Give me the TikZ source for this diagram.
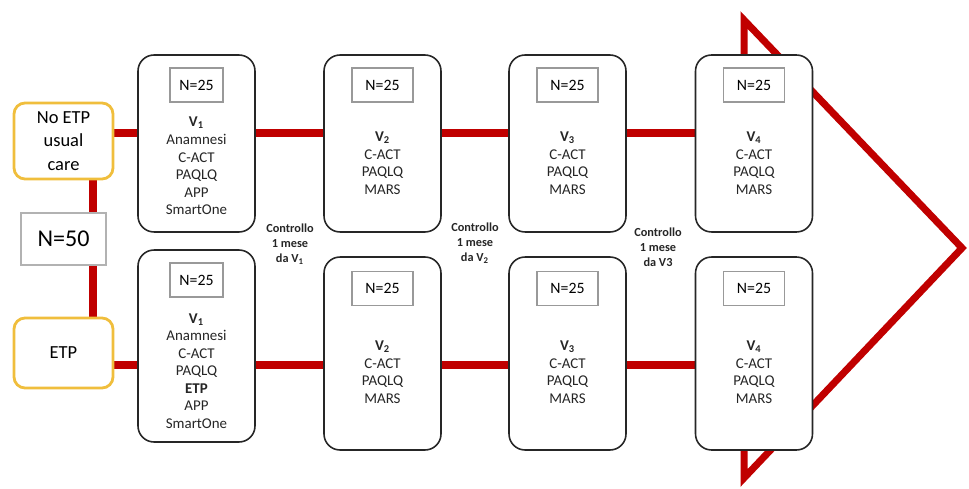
\documentclass[tikz,border=0pt]{standalone}
\usepackage{fontspec}
\setmainfont{Carlito}
\usetikzlibrary{backgrounds}
\definecolor{etpred}{RGB}{192,0,0}
\definecolor{etpgold}{RGB}{240,190,60}

\begin{document}
\begin{tikzpicture}[x=0.02cm,y=-0.02cm,
  visit/.style={draw=black!85,line width=0.9pt,rounded corners=0.32cm,fill=white,minimum width=2.34cm},
  nbox/.style={draw=black!40,line width=0.6pt,fill=white,minimum height=0.68cm,font=\fontsize{9}{11}\selectfont},
  arm/.style={draw=etpgold,line width=1.6pt,rounded corners=0.22cm,fill=white,minimum width=1.98cm,align=center,font=\fontsize{10.5}{13.2}\selectfont},
  exams/.style={align=center,text=black!85,font=\fontsize{8.5}{10}\selectfont},
  ctrl/.style={align=center,text=black!85,font=\bfseries\fontsize{7}{8.5}\selectfont},
  redline/.style={etpred,line width=4.5pt}]
  \useasboundingbox (0,0) rectangle (969,489);

  % the two arms
  \node[arm,minimum height=1.52cm] (noetp) at (63.5,141) {No ETP\\usual\\care};
  \node[arm,minimum height=1.4cm] (etp) at (63.5,353) {ETP};
  \node[draw=black!30,fill=white,line width=0.6pt,minimum width=1.7cm,minimum height=1.04cm,font=\fontsize{13.7}{16}\selectfont] (n50) at (63.5,239) {N=50};

  % first visit
  \node[visit,minimum height=3.54cm] (top1) at (196.5,143.5) {};
  \node[nbox,minimum width=1.06cm] (ntop1) at (196.5,85) {N=25};
  \node[exams] (etop1) at (196.5,166) {\textbf{V\textsubscript{1}}\\Anamnesi\\C-ACT\\PAQLQ\\APP\\SmartOne};
  \node[visit,minimum height=3.84cm] (bot1) at (196.5,346) {};
  \node[nbox,minimum width=1.06cm] (nbot1) at (196.5,280) {N=25};
  \node[exams] (ebot1) at (196.5,371) {\textbf{V\textsubscript{1}}\\Anamnesi\\C-ACT\\PAQLQ\\\textbf{ETP}\\APP\\SmartOne};

  % follow-up visits
  \foreach \i/\x in {2/382.5,3/567.5,4/754} {
    \node[visit,minimum height=3.54cm] (top\i) at (\x,143.5) {};
    \node[nbox,minimum width=1.22cm] (ntop\i) at (\x,85) {N=25};
    \node[exams] (etop\i) at (\x,163) {\textbf{V\textsubscript{\i}}\\C-ACT\\PAQLQ\\MARS};
    \node[visit,minimum height=3.86cm] (bot\i) at (\x,353.5) {};
    \node[nbox,minimum width=1.22cm] (nbot\i) at (\x,288.5) {N=25};
    \node[exams] (ebot\i) at (\x,372) {\textbf{V\textsubscript{\i}}\\C-ACT\\PAQLQ\\MARS};
  }

  \node[ctrl] (ctrl1) at (290,244) {Controllo\\1 mese\\da V\textsubscript{1}};
  \node[ctrl] (ctrl2) at (475,243) {Controllo\\1 mese\\da V\textsubscript{2}};
  \node[ctrl] (ctrl3) at (658,247) {Controllo\\1 mese\\da V3};

  \coordinate (topline) at (0,133);
  \coordinate (botline) at (0,365);

  \begin{scope}[on background layer]
    % big arrow head, its back side only shows past the last boxes
    \draw[etpred,line width=4pt] (744,70) -- (744,20) -- (962,248) -- (744,478) -- (744,430);
    \draw[redline] ([xshift=0.59cm]noetp.south) -- ([xshift=0.59cm]etp.north);
    \foreach \a/\b in {noetp/top1,top1/top2,top2/top3,top3/top4}
      \draw[redline] (\a.east |- topline) -- (\b.west |- topline);
    \foreach \a/\b in {etp/bot1,bot1/bot2,bot2/bot3,bot3/bot4}
      \draw[redline] (\a.east |- botline) -- (\b.west |- botline);
  \end{scope}
\end{tikzpicture}
\end{document}
